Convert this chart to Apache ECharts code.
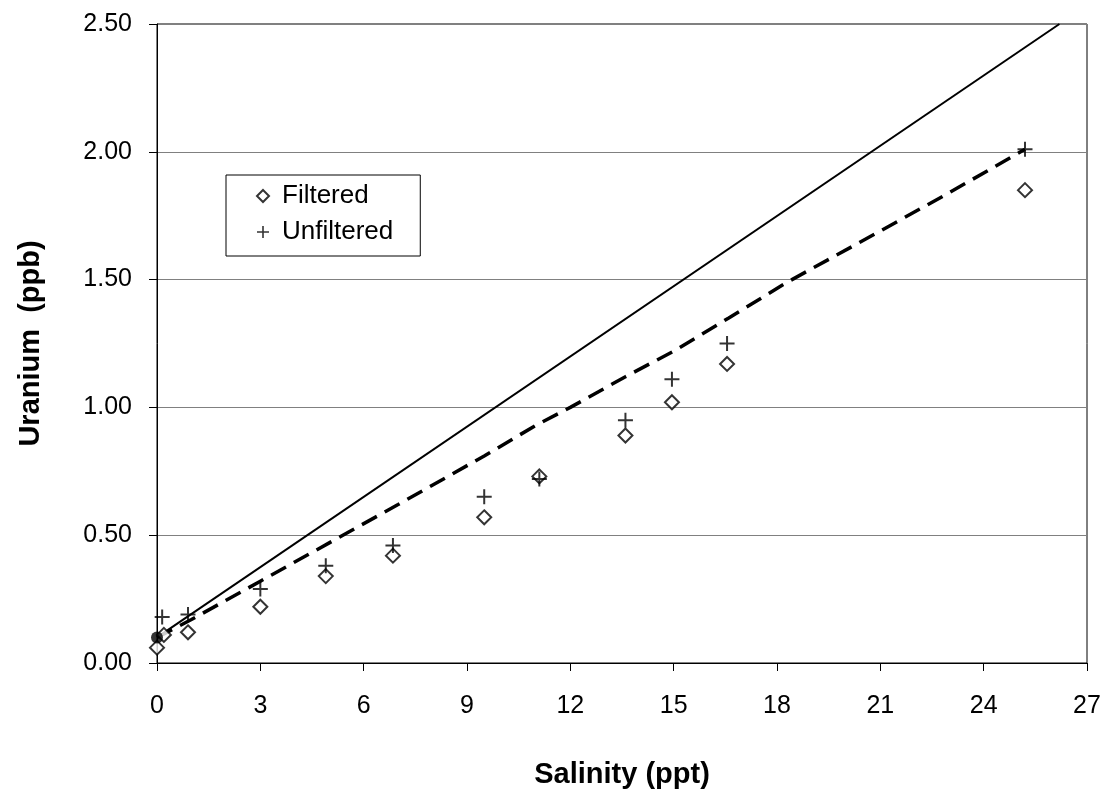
<!DOCTYPE html>
<html>
<head>
<meta charset="utf-8">
<script src="https://cdn.jsdelivr.net/npm/echarts@6/dist/echarts.min.js"></script>
<style>
html,body{margin:0;padding:0;background:#fff;}
#chart{width:1108px;height:794px;}
</style>
</head>
<body>
<div id="chart"></div>
<script>
// Data
var xTicks = [0, 3, 6, 9, 12, 15, 18, 21, 24, 27];
var yTicks = [0, 0.5, 1.0, 1.5, 2.0, 2.5];

var filteredSalinity = [0, 0.2, 0.9, 3.0, 4.9, 6.85, 9.5, 11.1, 13.6, 14.95, 16.55, 25.2];
var filteredUranium  = [0.06, 0.11, 0.12, 0.22, 0.34, 0.42, 0.57, 0.73, 0.89, 1.02, 1.17, 1.85];

var unfilteredSalinity = [0.15, 0.9, 3.0, 4.9, 6.85, 9.5, 11.1, 13.6, 14.95, 16.55, 25.2];
var unfilteredUranium  = [0.18, 0.19, 0.29, 0.38, 0.46, 0.65, 0.72, 0.95, 1.11, 1.25, 2.01];

var endMemberSalinity = [0];
var endMemberUranium  = [0.10];

var mixingSalinity = [0, 26.2];
var mixingUranium  = [0.10, 2.50];

var modelSalinity = [0, 1, 3, 5, 7, 9.5, 11, 12, 13.6, 15, 16.6, 18.3, 21, 23, 25.2];
var modelUranium  = [0.10, 0.17, 0.32, 0.47, 0.62, 0.81, 0.93, 1.00, 1.12, 1.22, 1.35, 1.49, 1.69, 1.84, 2.01];

function pairs(xs, ys){ return xs.map(function(x,i){ return [x, ys[i]]; }); }

var plusPath = 'path://M6.5,0h2v6.5h6.5v2h-6.5v6.5h-2v-6.5h-6.5v-2h6.5z';
var font = 'Arial, "Liberation Sans", sans-serif';

var chart = echarts.init(document.getElementById('chart'), null, {renderer:'canvas'});
chart.setOption({
  animation: false,
  backgroundColor: '#fff',
  textStyle: {fontFamily: font},
  grid: {left: 157, right: 21, top: 24, bottom: 130, show: true, borderColor: '#000', borderWidth: 1, backgroundColor: 'transparent'},
  legend: {
    data: ['Filtered', 'Unfiltered'],
    orient: 'vertical',
    left: 226, top: 175,
    borderColor: '#000', borderWidth: 1,
    padding: [8, 27, 11, 30],
    itemGap: 10,
    itemWidth: 12, itemHeight: 12,
    textStyle: {fontSize: 26, color: '#000', fontFamily: font, padding: [0, 0, 0, 8]}
  },
  xAxis: {
    type: 'value', min: 0, max: 27, interval: 3,
    name: 'Salinity (ppt)', nameLocation: 'middle', nameGap: 97,
    nameTextStyle: {fontSize: 29, fontWeight: 'bold', color: '#000', fontFamily: font},
    axisLine: {show: true, lineStyle: {color: '#000', width: 1}},
    axisTick: {show: true, length: 8, lineStyle: {color: '#000'}},
    axisLabel: {fontSize: 25, color: '#000', margin: 31, formatter: function(v){ return xTicks.indexOf(v) >= 0 ? String(v) : ''; }},
    splitLine: {show: false}
  },
  yAxis: {
    type: 'value', min: 0, max: 2.5, interval: 0.5,
    name: 'Uranium  (ppb)', nameLocation: 'middle', nameGap: 112,
    nameTextStyle: {fontSize: 29, fontWeight: 'bold', color: '#000', fontFamily: font},
    axisLine: {show: true, lineStyle: {color: '#000', width: 1}},
    axisTick: {show: true, length: 8, lineStyle: {color: '#000'}},
    axisLabel: {fontSize: 25, color: '#000', margin: 25, formatter: function(v){ return v.toFixed(2); }},
    splitLine: {show: true, lineStyle: {color: '#808080', width: 1}}
  },
  series: [
    {
      name: 'Mixing', type: 'line', data: pairs(mixingSalinity, mixingUranium),
      symbol: 'none', lineStyle: {color: '#000', width: 2}, silent: true, z: 2
    },
    {
      name: 'Model', type: 'line', data: pairs(modelSalinity, modelUranium),
      symbol: 'none', lineStyle: {color: '#000', width: 3.5, type: [17, 9]}, silent: true, z: 2
    },
    {
      name: 'Filtered', type: 'scatter', data: pairs(filteredSalinity, filteredUranium),
      symbol: 'diamond', symbolSize: [14, 14],
      itemStyle: {color: '#fff', borderColor: '#000', borderWidth: 2}, z: 3
    },
    {
      name: 'Unfiltered', type: 'scatter', data: pairs(unfilteredSalinity, unfilteredUranium),
      symbol: plusPath, symbolSize: 15,
      itemStyle: {color: '#000'}, z: 4
    },
    {
      name: 'End member', type: 'scatter', data: pairs(endMemberSalinity, endMemberUranium),
      symbol: 'circle', symbolSize: 12,
      itemStyle: {color: '#000'}, z: 5
    }
  ]
});
</script>
</body>
</html>
